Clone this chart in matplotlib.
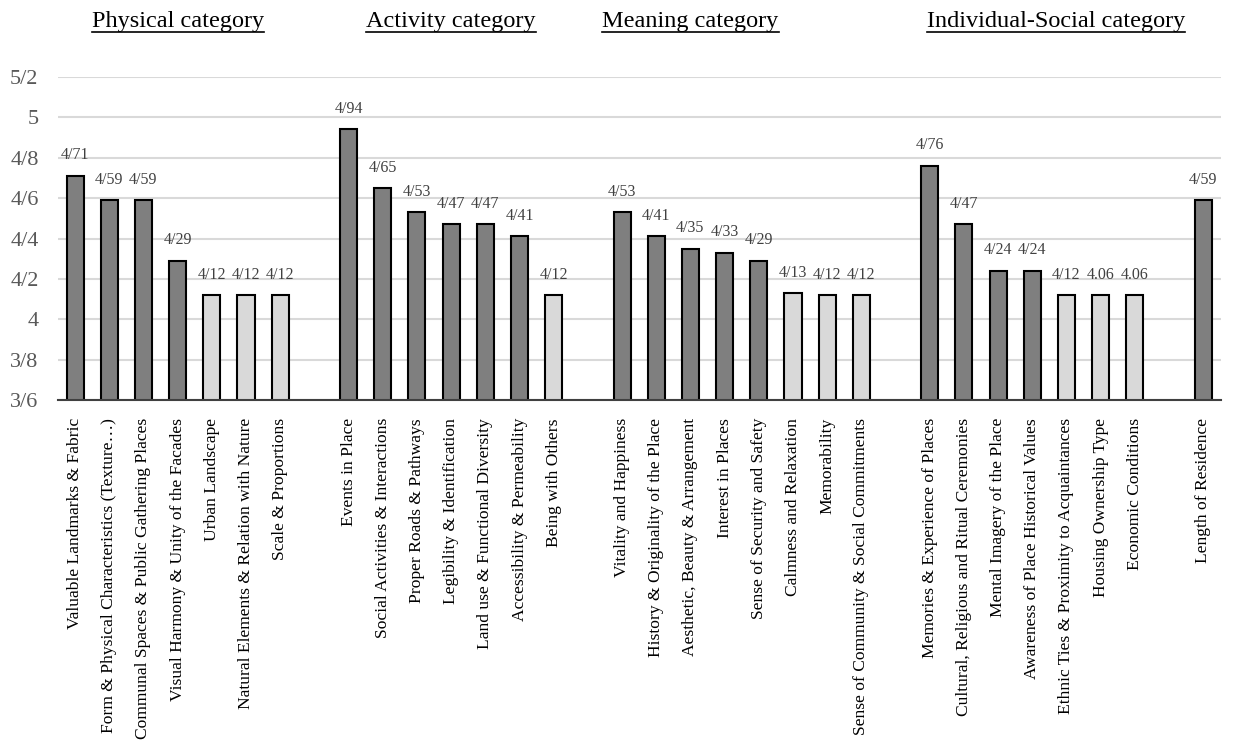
import matplotlib
matplotlib.use("Agg")
import matplotlib.pyplot as plt
from matplotlib.lines import Line2D
import matplotlib.transforms as mtransforms

plt.rcParams['font.family'] = ['Liberation Serif', 'DejaVu Serif']

physical = ["Valuable Landmarks & Fabric",
            "Form & Physical Characteristics (Texture\u2026)",
            "Communal Spaces & Public Gathering Places",
            "Visual Harmony & Unity of the Facades",
            "Urban Landscape",
            "Natural Elements & Relation with Nature",
            "Scale & Proportions"]
physical_vals = [4.71, 4.59, 4.59, 4.29, 4.12, 4.12, 4.12]
physical_lbls = ["4/71", "4/59", "4/59", "4/29", "4/12", "4/12", "4/12"]

activity = ["Events in Place",
            "Social Activities & Interactions",
            "Proper Roads & Pathways",
            "Legibility & Identification",
            "Land use & Functional Diversity",
            "Accessibility & Permeability",
            "Being with Others"]
activity_vals = [4.94, 4.65, 4.53, 4.47, 4.47, 4.41, 4.12]
activity_lbls = ["4/94", "4/65", "4/53", "4/47", "4/47", "4/41", "4/12"]

meaning = ["Vitality and Happiness",
           "History & Originality of the Place",
           "Aesthetic, Beauty & Arrangement",
           "Interest in Places",
           "Sense of Security and Safety",
           "Calmness and Relaxation",
           "Memorability",
           "Sense of Community & Social Commitments"]
meaning_vals = [4.53, 4.41, 4.35, 4.33, 4.29, 4.13, 4.12, 4.12]
meaning_lbls = ["4/53", "4/41", "4/35", "4/33", "4/29", "4/13", "4/12", "4/12"]

individual = ["Memories & Experience of Places",
              "Cultural, Religious and Ritual Ceremonies",
              "Mental Imagery of the Place",
              "Awareness of Place Historical Values",
              "Ethnic Ties & Proximity to Acquaintances",
              "Housing Ownership Type",
              "Economic Conditions"]
individual_vals = [4.76, 4.47, 4.24, 4.24, 4.12, 4.12, 4.12]
individual_lbls = ["4/76", "4/47", "4/24", "4/24", "4/12", "4.06", "4.06"]

residence = ["Length of Residence"]
residence_vals = [4.59]
residence_lbls = ["4/59"]

group_titles = ["Physical category", "Activity category", "Meaning category",
                "Individual-Social category"]

yticks = [3.6, 3.8, 4.0, 4.2, 4.4, 4.6, 4.8, 5.0, 5.2]
ytick_labels = ["3/6", "3/8", "4", "4/2", "4/4", "4/6", "4/8", "5", "5/2"]

groups = [(physical, physical_vals, physical_lbls),
          (activity, activity_vals, activity_lbls),
          (meaning, meaning_vals, meaning_lbls),
          (individual, individual_vals, individual_lbls),
          (residence, residence_vals, residence_lbls)]

xs, names, vals, lbls = [], [], [], []
pos = 0
for g_names, g_vals, g_lbls in groups:
    for n, v, l in zip(g_names, g_vals, g_lbls):
        xs.append(pos)
        names.append(n)
        vals.append(v)
        lbls.append(l)
        pos += 1
    pos += 1

DARK = "#7f7f7f"
LIGHT = "#d9d9d9"
colors = [LIGHT if v <= 4.13 else DARK for v in vals]

fig = plt.figure(figsize=(12.45, 7.55), dpi=100)
ax = fig.add_axes([58/1245, 1 - 400/755, (1221-58)/1245, (400-77)/755])

bars = ax.bar(xs, vals, width=0.5, color=colors, edgecolor="black",
              linewidth=1.5, zorder=3, bottom=0)
ax.set_ylim(3.6, 5.2)
ax.set_xlim(-0.5, xs[-1] + 0.52)
ax.set_yticks(yticks)
ax.set_yticklabels(ytick_labels, fontsize=16, color="#595959")
ax.set_xticks(xs)
ax.set_xticklabels(names, rotation=90, fontsize=12.6, color="black",
                   va="top", ha="center")
ax.tick_params(axis="both", length=0)
ax.tick_params(axis="x", pad=13)
ax.tick_params(axis="y", pad=14)
ax.yaxis.grid(True, color="#d9d9d9", linewidth=1.5, zorder=0)
for s in ["top", "right", "left"]:
    ax.spines[s].set_visible(False)
ax.spines["bottom"].set_color("#404040")
ax.spines["bottom"].set_linewidth(1.5)
ax.spines["bottom"].set_zorder(4)

for x, v, l in zip(xs, vals, lbls):
    ax.annotate(l, (x, v), xytext=(0, 9), textcoords="offset points",
                ha="center", va="bottom", fontsize=11.5, color="#404040")

title_x = [3, 11, 18, 28.7]
trans = mtransforms.blended_transform_factory(ax.transData, fig.transFigure)
texts = []
for tx, t in zip(title_x, group_titles):
    texts.append(fig.text(tx, 1 - 22/755, t, transform=trans, ha="center",
                          va="center", fontsize=17.5, color="black"))

fig.canvas.draw()
renderer = fig.canvas.get_renderer()
for t in texts:
    bb = t.get_window_extent(renderer)
    y = bb.y0 + 1
    fig.add_artist(Line2D([bb.x0 / fig.bbox.width, bb.x1 / fig.bbox.width],
                          [y / fig.bbox.height, y / fig.bbox.height],
                          transform=fig.transFigure, color="black",
                          linewidth=1.2))

fig.savefig("out.png", dpi=100)
